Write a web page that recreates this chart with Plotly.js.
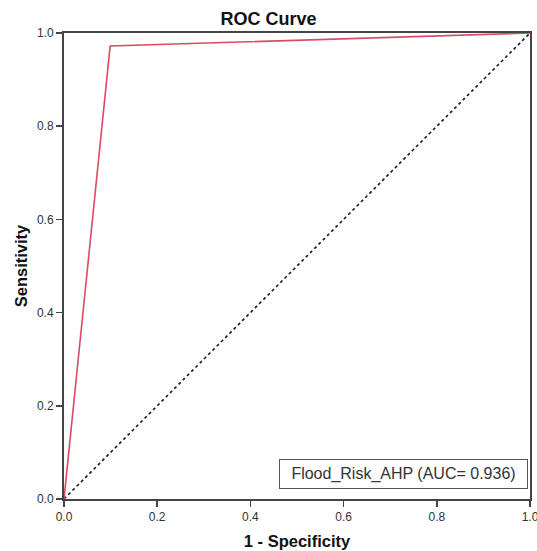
<!DOCTYPE html>
<html>
<head>
<meta charset="utf-8">
<script src="https://cdn.plot.ly/plotly-3.0.1.min.js"></script>
<style>html,body{margin:0;padding:0;background:#fff;}#chart{width:537px;height:551px;}</style>
</head>
<body>
<div id="chart"></div>
<script>
const fpr = [0.0, 0.099, 1.0];
const tpr = [0.0, 0.972, 1.0];
const refX = [0.0, 1.0];
const refY = [0.0, 1.0];
const seriesName = "Flood_Risk_AHP";
const aucValue = 0.936;
const tickVals = [0.0, 0.2, 0.4, 0.6, 0.8, 1.0];
const tickText = ["0.0", "0.2", "0.4", "0.6", "0.8", "1.0"];

const FONT = "Liberation Sans, Arial, sans-serif";

const traces = [
  {x: refX, y: refY, mode: "lines", line: {color: "#222", width: 1.7, dash: "dot"}, hoverinfo: "skip", showlegend: false, cliponaxis: false},
  {x: fpr, y: tpr, mode: "lines", line: {color: "#da4b63", width: 1.6}, name: seriesName, showlegend: false, cliponaxis: false}
];

const axisCommon = {
  range: [0, 1], tickvals: tickVals, ticktext: tickText,
  showgrid: false, zeroline: false, showline: true, linecolor: "#444", linewidth: 2,
  mirror: true, ticks: "outside", ticklen: 6, tickwidth: 1.5, tickcolor: "#444",
  ticklabeloverflow: "allow",
  tickfont: {family: FONT, size: 12, color: "#333"}
};

const layout = {
  width: 537, height: 551,
  margin: {l: 64, r: 7, t: 33, b: 52},
  paper_bgcolor: "#fff", plot_bgcolor: "#fff",
  title: {text: "<b>ROC Curve</b>", x: 0.5, xanchor: "center", y: 0.9655, yanchor: "middle",
          font: {family: FONT, size: 18, color: "#111"}},
  xaxis: Object.assign({}, axisCommon, {
    title: {text: "<b>1 - Specificity</b>", standoff: 12, font: {family: FONT, size: 16.5, color: "#111"}}
  }),
  yaxis: Object.assign({}, axisCommon, {
    title: {text: "<b>Sensitivity</b>", standoff: 5, font: {family: FONT, size: 16.5, color: "#111"}}
  }),
  annotations: [{
    xref: "paper", yref: "paper", x: 0.9957, y: 0.0215, xanchor: "right", yanchor: "bottom",
    text: seriesName + " (AUC= " + aucValue.toFixed(3) + ")", showarrow: false,
    width: 239, height: 20, align: "center",
    font: {family: FONT, size: 16, color: "#333"},
    bordercolor: "#555", borderwidth: 1, borderpad: 4, bgcolor: "#fff"
  }]
};

Plotly.newPlot("chart", traces, layout, {displayModeBar: false, staticPlot: true});
</script>
</body>
</html>
